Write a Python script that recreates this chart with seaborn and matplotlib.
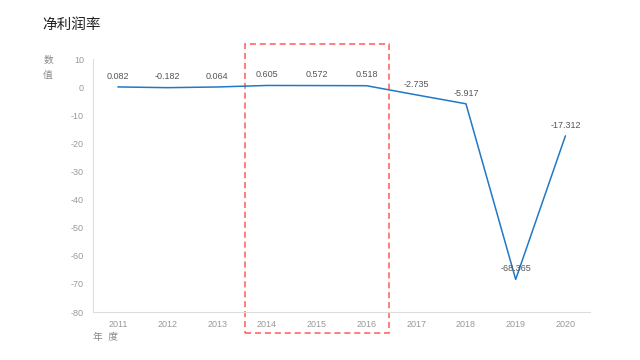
import pandas as pd
import numpy as np
import matplotlib.pyplot as plt
import seaborn as sns
from matplotlib.patches import Rectangle

# Data
years = ['2011', '2012', '2013', '2014', '2015', '2016', '2017', '2018', '2019', '2020']
net_margin = [0.082, -0.182, 0.064, 0.605, 0.572, 0.518, -2.735, -5.917, -68.365, -17.312]
highlight = ('2014', '2016')

sns.set_theme(style='white')
plt.rcParams['font.family'] = ['Liberation Sans', 'Noto Sans CJK SC', 'DejaVu Sans']
plt.rcParams['axes.unicode_minus'] = False

df = pd.DataFrame({'year': years, 'value': net_margin})

fig = plt.figure(figsize=(6.4, 3.6), dpi=100)
ax = fig.add_axes([0.1453, 0.133, 0.777, 0.703])

sns.lineplot(data=df, x='year', y='value', ax=ax, color='#1f78c8', linewidth=1.1, sort=False)

ax.set_xlim(-0.5, len(years) - 0.5)
ax.set_ylim(-80, 10)
ax.set_yticks(np.arange(-80, 11, 10))
ax.tick_params(axis='both', labelsize=6.5, labelcolor='#999999', colors='#dddddd', length=3, width=0.8)
ax.tick_params(axis='x', length=0, pad=6)
# small ticks on the category boundaries
ax.set_xticks(np.arange(-0.5, len(years), 1), minor=True)
ax.tick_params(axis='x', which='minor', length=3, color='#dddddd', width=0.8)

for s in ['top', 'right']:
    ax.spines[s].set_visible(False)
for s in ['left', 'bottom']:
    ax.spines[s].set_color('#dddddd')
    ax.spines[s].set_linewidth(0.8)

ax.set_xlabel('')
ax.set_ylabel('')

# value labels
for i, v in enumerate(net_margin):
    ax.annotate(f'{v}', (i, v), xytext=(0, 4.5), textcoords='offset points',
                ha='center', va='bottom', fontsize=6.5, color='#555555')

# highlight box
x0 = years.index(highlight[0]) - 0.45
x1 = years.index(highlight[1]) + 0.45
ax.add_patch(Rectangle((x0, -87.5), x1 - x0, 102.8, fill=False, edgecolor='#ff5a5a',
                       linestyle=(0, (4, 2.5)), linewidth=1.1, clip_on=False))

fig.text(0.066, 0.93, '净利润率', fontsize=10.5, color='#222222', ha='left', va='center')
fig.text(0.075, 0.833, '数', fontsize=7, color='#888888', ha='center', va='center')
fig.text(0.075, 0.792, '值', fontsize=7, color='#888888', ha='center', va='center')
fig.text(0.165, 0.063, '年  度', fontsize=7, color='#888888', ha='center', va='center')

fig.savefig('out.png', dpi=100)
